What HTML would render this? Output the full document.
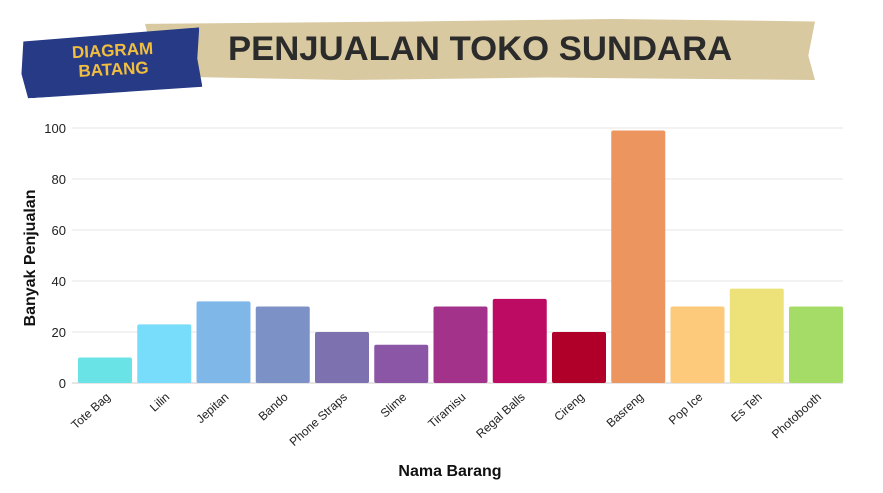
<!DOCTYPE html>
<html><head><meta charset="utf-8"><style>
body{margin:0;width:883px;height:493px;background:#fff;overflow:hidden;font-family:"Liberation Sans",sans-serif;position:relative}
.tape{position:absolute;left:145px;top:19px;width:670px;height:61px;background:#d9c9a0;clip-path:polygon(0 8%,40% 4%,70% 0,100% 4%,99% 60%,100% 100%,60% 96%,30% 100%,2% 94%,1% 50%)}
.blue{position:absolute;left:21px;top:32px;width:180px;height:62px;background:#263a86;transform:rotate(-3deg);clip-path:polygon(2% 8%,100% 0,98% 50%,100% 96%,3% 100%,0 60%)}
.btxt{position:absolute;left:58px;top:41px;width:110px;color:#f2be3e;font-weight:bold;font-size:17px;line-height:19px;text-align:center;transform:rotate(-3deg)}
.title{position:absolute;left:228px;top:30px;font-weight:bold;font-size:34px;color:#2b2b2b;transform:scaleX(1.02);transform-origin:left;white-space:nowrap}
</style></head><body>
<div class="tape"></div>
<div class="blue"></div>
<div class="btxt">DIAGRAM<br>BATANG</div>
<div class="title">PENJUALAN TOKO SUNDARA</div>
<svg id="c" width="883" height="493" style="position:absolute;left:0;top:0"></svg>
<script>
const categories=["Tote Bag","Lilin","Jepitan","Bando","Phone Straps","Slime","Tiramisu","Regal Balls","Cireng","Basreng","Pop Ice","Es Teh","Photobooth"];
const values=[10,23,32,30,20,15,30,33,20,99,30,37,30];
const colors=["#6ae3e6","#78dcfb","#7fb8e8","#7c92c6","#7d71b0","#8b56a6","#a2328a","#bd0a62","#b0002a","#ec955e","#fdc97a","#ede27a","#a5dc68"];
const yTicks=[0,20,40,60,80,100];
const svg=document.getElementById('c');const NS="http://www.w3.org/2000/svg";
const L=72,R=843,Y0=383,Y100=128;
const y=v=>Y0-(Y0-Y100)*v/100;
const step=59.25;
const x=i=>78+i*step;
function mk(t,a){const e=document.createElementNS(NS,t);for(const k in a)e.setAttribute(k,a[k]);svg.appendChild(e);return e;}
yTicks.forEach(t=>{
 const g=mk('line',{x1:L,x2:R,y1:y(t),y2:y(t),stroke:t===0?'#ccc':'#e6e6e6'});
 
 
 const tx=mk('text',{x:66,y:y(t)+5,'text-anchor':'end','font-size':13,fill:'#222'});tx.textContent=t;
 
 
});
categories.forEach((c,i)=>{
 const b=mk('rect',{x:x(i),y:y(values[i]),width:54,height:Y0-y(values[i]),fill:colors[i],rx:2});
 
 
 const cx=x(i)+27;
 const t=mk('text',{x:cx+6,y:398,'text-anchor':'end','font-size':12,fill:'#222',transform:`rotate(-42 ${cx+6} 398)`});t.textContent=c;
 
 
});
const xt=mk('text',{x:450,y:476,'text-anchor':'middle','font-size':16,'font-weight':'bold',fill:'#111'});xt.textContent='Nama Barang';


const yt=mk('text',{x:0,y:0,'text-anchor':'middle','font-size':16,'font-weight':'bold',fill:'#111',transform:'translate(35 258) rotate(-90)'});yt.textContent='Banyak Penjualan';


</script>
</body></html>
